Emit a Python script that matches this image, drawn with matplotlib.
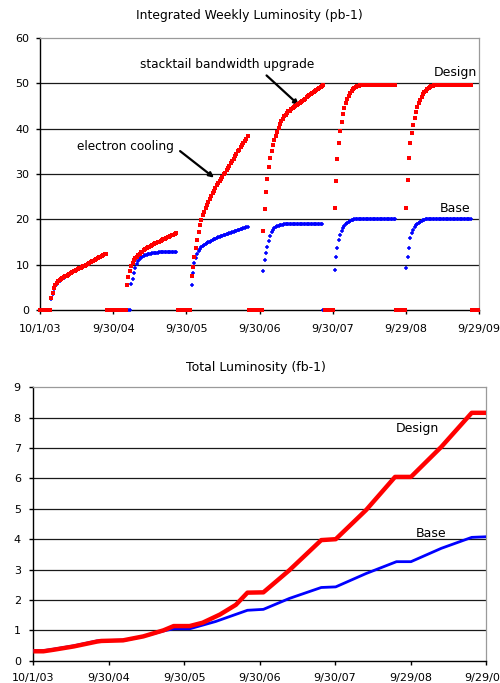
import numpy as np
import pandas as pd
import matplotlib
matplotlib.use('Agg')
import matplotlib.pyplot as plt

plt.rcParams['font.family'] = ['DejaVu Sans']

# ---------------- data ----------------
tick_labels = ['10/1/03', '9/30/04', '9/30/05', '9/30/06', '9/30/07', '9/29/08', '9/29/09']

# weekly integrated luminosity (pb-1), by fiscal year; start = week index from 10/1/03
design_fy04_start = 8
design_fy04 = [2.6, 3.8, 4.8, 5.5, 5.9, 6.3, 6.6, 6.8, 7.0, 7.2, 7.4, 7.6, 7.8, 7.9, 8.1, 8.3,
               8.5, 8.7, 8.8, 9.0, 9.2, 9.3, 9.5, 9.7, 9.8, 10.0, 10.2, 10.3, 10.5, 10.7, 10.9,
               11.0, 11.2, 11.4, 11.6, 11.7, 11.9, 12.1, 12.3, 12.4]
base_fy04_start = 8
base_fy04 = [2.5, 3.6, 4.6, 5.3, 5.7, 6.1, 6.5, 6.7, 6.9, 7.1, 7.3, 7.5, 7.7, 7.9, 8.1, 8.3,
             8.5, 8.7, 8.8, 9.0, 9.2, 9.3, 9.5, 9.7, 9.8, 10.0, 10.2, 10.3, 10.5, 10.7, 10.9,
             11.0, 11.2, 11.4, 11.6, 11.7, 11.9, 12.1, 12.3, 12.4]

design_fy05_start = 62
design_fy05 = [5.6, 7.2, 8.7, 9.7, 10.4, 11.0, 11.4, 11.8, 12.1, 12.4, 12.7, 12.9, 13.2, 13.4,
               13.6, 13.8, 14.0, 14.2, 14.3, 14.5, 14.7, 14.8, 15.0, 15.1, 15.3, 15.4, 15.6,
               15.7, 15.9, 16.0, 16.2, 16.3, 16.5, 16.6, 16.8, 16.9]
base_fy05_start = 65
base_fy05 = [5.7, 6.9, 8.2, 9.3, 10.2, 10.8, 11.3, 11.6, 11.8, 12.0, 12.1, 12.2, 12.3, 12.4,
             12.4, 12.5, 12.5, 12.6, 12.6, 12.6, 12.7, 12.7, 12.7, 12.7, 12.8, 12.8, 12.8,
             12.8, 12.8, 12.8, 12.8, 12.8, 12.8]

design_fy06_start = 108
design_fy06 = [7.6, 9.4, 11.8, 13.7, 15.5, 17.3, 18.8, 19.9, 21.0, 21.7, 22.4, 23.1, 23.8, 24.5,
               25.1, 25.7, 26.3, 26.9, 27.5, 28.0, 28.5, 28.9, 29.4, 29.9, 30.3, 30.8, 31.3,
               31.8, 32.4, 32.9, 33.4, 34.0, 34.5, 35.0, 35.4, 35.9, 36.4, 36.8, 37.3, 37.7, 38.4]
base_fy06_start = 108
base_fy06 = [5.6, 8.2, 10.4, 11.4, 12.4, 13.0, 13.4, 13.8, 14.1, 14.3, 14.5, 14.7, 14.9, 15.1,
             15.3, 15.4, 15.6, 15.7, 15.9, 16.0, 16.2, 16.3, 16.4, 16.5, 16.6, 16.7, 16.8,
             16.9, 17.0, 17.2, 17.3, 17.4, 17.5, 17.6, 17.7, 17.8, 17.9, 18.0, 18.1, 18.3, 18.4]

design_fy07_start = 159
design_fy07 = [17.5, 22.2, 26.0, 29.0, 31.6, 33.5, 35.1, 36.4, 37.5, 38.4, 39.3, 40.2, 41.0,
               41.6, 42.2, 42.7, 43.1, 43.5, 43.8, 44.0, 44.3, 44.5, 44.7, 44.9, 45.2, 45.4,
               45.6, 45.9, 46.1, 46.4, 46.6, 46.9, 47.1, 47.4, 47.6, 47.9, 48.1, 48.4, 48.6,
               48.8, 49.0, 49.2, 49.4, 49.6]
base_fy07_start = 159
base_fy07 = [8.5, 11.0, 12.5, 14.0, 15.3, 16.4, 17.1, 17.7, 18.1, 18.3, 18.5, 18.6, 18.7, 18.8,
             18.8, 18.9, 18.9, 18.9, 18.9, 18.9, 19.0, 19.0, 19.0, 19.0, 19.0, 19.0, 19.0,
             19.0, 19.0, 19.0, 19.0, 19.0, 19.0, 19.0, 19.0, 19.0, 19.0, 19.0, 19.0, 19.0,
             19.0, 19.0, 19.0]

design_fy08_start = 210
design_fy08 = [22.4, 28.5, 33.3, 36.8, 39.4, 41.5, 43.2, 44.6, 45.7, 46.6, 47.3, 47.9, 48.3,
               48.7, 49.0, 49.2, 49.4, 49.5, 49.6, 49.7, 49.7, 49.7, 49.7, 49.7, 49.7, 49.7,
               49.7, 49.7, 49.7, 49.7, 49.7, 49.7, 49.7, 49.7, 49.7, 49.7, 49.7, 49.7, 49.7,
               49.7, 49.7, 49.7, 49.7, 49.7]
base_fy08_start = 210
base_fy08 = [8.8, 11.8, 13.6, 15.4, 16.6, 17.4, 18.1, 18.6, 19.0, 19.3, 19.5, 19.7, 19.8, 19.9,
             20.0, 20.0, 20.0, 20.0, 20.0, 20.0, 20.0, 20.0, 20.0, 20.0, 20.0, 20.0, 20.0,
             20.0, 20.0, 20.0, 20.0, 20.0, 20.0, 20.0, 20.0, 20.0, 20.0, 20.0, 20.0, 20.0,
             20.0, 20.0, 20.0, 20.0]

design_fy09_start = 261
design_fy09 = [22.4, 28.7, 33.5, 36.8, 39.0, 40.8, 42.3, 43.6, 44.7, 45.6, 46.4, 47.0, 47.6,
               48.0, 48.4, 48.7, 49.0, 49.2, 49.4, 49.5, 49.6, 49.7, 49.7, 49.7, 49.7, 49.7,
               49.7, 49.7, 49.7, 49.7, 49.7, 49.7, 49.7, 49.7, 49.7, 49.7, 49.7, 49.7, 49.7,
               49.7, 49.7, 49.7, 49.7, 49.7, 49.7, 49.7, 49.7]
base_fy09_start = 261
base_fy09 = [9.2, 11.8, 13.6, 15.8, 16.9, 17.6, 18.2, 18.7, 19.0, 19.3, 19.5, 19.7, 19.8, 19.9,
             20.0, 20.0, 20.0, 20.0, 20.0, 20.0, 20.0, 20.0, 20.0, 20.0, 20.0, 20.0, 20.0,
             20.0, 20.0, 20.0, 20.0, 20.0, 20.0, 20.0, 20.0, 20.0, 20.0, 20.0, 20.0, 20.0,
             20.0, 20.0, 20.0, 20.0, 20.0, 20.0, 20.0]

# shutdown weeks (zero luminosity), inclusive ranges
design_shutdowns = [(0, 7), (48, 61), (98, 107), (149, 158), (203, 209), (254, 260), (308, 312)]
base_shutdowns = [(0, 7), (48, 64), (98, 107), (149, 158), (202, 209), (254, 260), (308, 312)]

# total integrated luminosity (fb-1)
design_total_weeks = [0, 7, 14, 28, 44, 47, 62, 76, 90, 97, 108, 117, 129, 140, 148, 159,
                      177, 199, 209, 230, 250, 261, 282, 303, 313]
design_total = [0.31, 0.31, 0.36, 0.47, 0.63, 0.65, 0.67, 0.80, 1.00, 1.14, 1.14, 1.25, 1.52,
                1.84, 2.24, 2.25, 2.98, 3.97, 4.00, 4.96, 6.05, 6.05, 7.04, 8.16, 8.16]
base_total_weeks = [0, 7, 14, 28, 44, 47, 64, 76, 90, 97, 108, 126, 148, 159, 177, 199, 209,
                    230, 251, 261, 282, 303, 313]
base_total = [0.33, 0.33, 0.38, 0.49, 0.65, 0.66, 0.68, 0.80, 0.98, 1.05, 1.05, 1.29, 1.66,
              1.69, 2.05, 2.41, 2.43, 2.87, 3.26, 3.26, 3.70, 4.06, 4.08]

design_segments = [(design_fy04_start, design_fy04), (design_fy05_start, design_fy05),
                   (design_fy06_start, design_fy06), (design_fy07_start, design_fy07),
                   (design_fy08_start, design_fy08), (design_fy09_start, design_fy09)]
base_segments = [(base_fy04_start, base_fy04), (base_fy05_start, base_fy05),
                 (base_fy06_start, base_fy06), (base_fy07_start, base_fy07),
                 (base_fy08_start, base_fy08), (base_fy09_start, base_fy09)]

# ---------------- helpers ----------------
tick_dates = pd.to_datetime(tick_labels, format='%m/%d/%y')
tick_weeks = np.asarray((tick_dates - tick_dates[0]).days, dtype=float) / 7.0


def series(segments, shutdowns):
    xs, ys = [], []
    for a, b in shutdowns:
        w = np.arange(a, b + 1)
        xs.append(w)
        ys.append(np.zeros(len(w)))
    for s, vals in segments:
        xs.append(s + np.arange(len(vals)))
        ys.append(np.asarray(vals, dtype=float))
    return np.concatenate(xs), np.concatenate(ys)


W, H = 500, 683
fig = plt.figure(figsize=(W / 100, H / 100), dpi=100)


def style_axes(ax, ymax, ylen, ypad, xpad):
    ax.set_xlim(0, tick_weeks[-1])
    ax.set_ylim(0, ymax)
    ax.set_xticks(tick_weeks)
    ax.set_xticklabels(tick_labels)
    ax.set_yticks(np.arange(0, ymax + 1, ylen))
    for s in ['top', 'right']:
        ax.spines[s].set_color('#9a9a9a')
        ax.spines[s].set_linewidth(0.9)
    for s in ['left', 'bottom']:
        ax.spines[s].set_color('black')
        ax.spines[s].set_linewidth(1.0)
    ax.tick_params(axis='both', direction='out', length=3, width=1, labelsize=8, colors='black')
    ax.tick_params(axis='y', pad=ypad)
    ax.tick_params(axis='x', pad=xpad)
    ax.yaxis.grid(True, color='#1a1a1a', linewidth=0.9)
    ax.set_axisbelow(True)
    gl = ax.yaxis.get_gridlines()
    gl[-1].set_visible(False)
    gl[0].set_visible(False)


# ---------------- top chart ----------------
ax1 = fig.add_axes([40 / W, 1 - 310 / H, 439 / W, 272 / H])
style_axes(ax1, 60, 10, 4.5, 7)

bx, by = series(base_segments, base_shutdowns)
dx, dy = series(design_segments, design_shutdowns)
ax1.plot(bx, by, linestyle='none', marker='+', markersize=3.0, markeredgewidth=1.1,
         color='#0000FF', zorder=3, clip_on=False)
ax1.plot(dx, dy, linestyle='none', marker='s', markersize=2.8, markeredgewidth=0,
         color='#FF0000', zorder=4, clip_on=False)

ax1.text(311.5, 52.4, 'Design', ha='right', va='center', fontsize=9)
ax1.text(306.5, 22.5, 'Base', ha='right', va='center', fontsize=9)
ax1.annotate('electron cooling', xy=(124, 29.2), xytext=(61, 36.1), ha='center', va='center',
             fontsize=8.7, arrowprops=dict(arrowstyle='-|>', color='black', lw=1.6,
                                           mutation_scale=7, shrinkA=3, shrinkB=0,
                                           relpos=(1.0, 0.5)))
ax1.annotate('stacktail bandwidth upgrade', xy=(184.5, 45.2), xytext=(133, 54.2), ha='center',
             va='center', fontsize=8.7,
             arrowprops=dict(arrowstyle='-|>', color='black', lw=1.6, mutation_scale=7,
                             shrinkA=2, shrinkB=0, relpos=(0.7, 0.0)))

fig.text(249 / W, 1 - 15 / H, 'Integrated Weekly Luminosity (pb-1)', ha='center', va='center',
         fontsize=8.9)

# ---------------- bottom chart ----------------
ax2 = fig.add_axes([33.3 / W, 1 - 660.7 / H, 452.7 / W, 273.4 / H])
style_axes(ax2, 9, 1, 6, 6)

ax2.plot(base_total_weeks, base_total, color='#0000FF', linewidth=2.0, zorder=3,
         solid_capstyle='butt')
ax2.plot(design_total_weeks, design_total, color='#FF0000', linewidth=3.2, zorder=4,
         solid_capstyle='butt')

ax2.text(265.5, 7.63, 'Design', ha='center', va='center', fontsize=9)
ax2.text(275, 4.2, 'Base', ha='center', va='center', fontsize=9, zorder=1)

fig.text(256 / W, 1 - 367 / H, 'Total Luminosity (fb-1)', ha='center', va='center',
         fontsize=9)

fig.savefig('out.png', dpi=100)
